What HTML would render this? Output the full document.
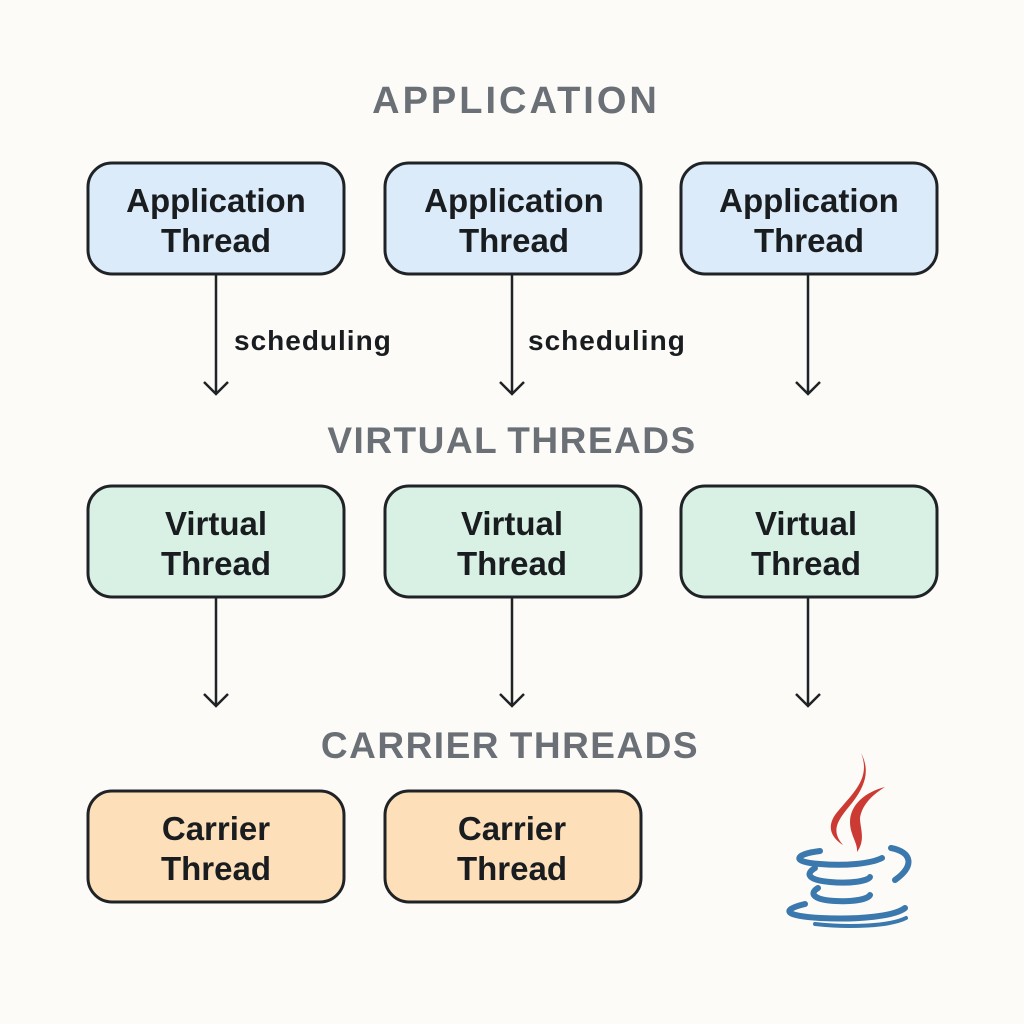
<!DOCTYPE html>
<html><head><meta charset="utf-8"><style>
body{margin:0;background:#fcfbf8;}
svg{display:block}
.h{font:bold 38px "Liberation Sans",sans-serif;fill:#6a7076;letter-spacing:3px;text-anchor:middle}
.h2{font:bold 37px "Liberation Sans",sans-serif;fill:#6a7076;letter-spacing:1.5px;word-spacing:-2px;text-anchor:middle}
.t{font:bold 33px "Liberation Sans",sans-serif;fill:#1a1d20;text-anchor:middle}
.s{font:bold 28px "Liberation Sans",sans-serif;fill:#1a1d20;letter-spacing:1px}
.b{stroke:#1f2326;stroke-width:3}
.a{stroke:#1f2326;stroke-width:2.5;fill:none}
</style></head><body>
<svg width="1024" height="1024" viewBox="0 0 1024 1024">
<text class="h" x="516" y="113">APPLICATION</text>
<text class="h2" x="512" y="453">VIRTUAL THREADS</text>
<text class="h2" x="510" y="758">CARRIER THREADS</text>
<g fill="#dcebf9" class="b">
<rect x="88" y="163" width="256" height="111" rx="24"/>
<rect x="385" y="163" width="256" height="111" rx="24"/>
<rect x="681" y="163" width="256" height="111" rx="24"/>
</g>
<g fill="#d9f1e5" class="b">
<rect x="88" y="486" width="256" height="111" rx="24"/>
<rect x="385" y="486" width="256" height="111" rx="24"/>
<rect x="681" y="486" width="256" height="111" rx="24"/>
</g>
<g fill="#fddfb9" class="b">
<rect x="88" y="791" width="256" height="111" rx="24"/>
<rect x="385" y="791" width="256" height="111" rx="24"/>
</g>
<g class="t">
<text x="216" y="212">Application</text><text x="216" y="252">Thread</text>
<text x="514" y="212">Application</text><text x="514" y="252">Thread</text>
<text x="809" y="212">Application</text><text x="809" y="252">Thread</text>
<text x="216" y="535">Virtual</text><text x="216" y="575">Thread</text>
<text x="512" y="535">Virtual</text><text x="512" y="575">Thread</text>
<text x="806" y="535">Virtual</text><text x="806" y="575">Thread</text>
<text x="216" y="840">Carrier</text><text x="216" y="880">Thread</text>
<text x="512" y="840">Carrier</text><text x="512" y="880">Thread</text>
</g>
<text class="s" x="234" y="350">scheduling</text>
<text class="s" x="528" y="350">scheduling</text>
<g class="a">
<path d="M216 275V394M204 382L216 394L228 382"/>
<path d="M512 275V394M500 382L512 394L524 382"/>
<path d="M808 275V394M796 382L808 394L820 382"/>
<path d="M216 598V706M204 694L216 706L228 694"/>
<path d="M512 598V706M500 694L512 706L524 694"/>
<path d="M808 598V706M796 694L808 706L820 694"/>
</g>
<g fill="#cc3b33">
<path d="M861 753C872 780 850 795 835 815C825 830 835 840 843 845C830 830 838 820 852 803C866 785 870 770 861 753Z"/>
<path d="M885 787C865 792 850 805 850 822C850 835 858 843 857 852C866 840 860 828 860 818C862 805 872 795 885 787Z"/>
</g>
<g fill="none" stroke="#3a78ad" stroke-linecap="round">
<path d="M820 851C795 854 790 862 820 864C845 866 870 864 882 858" stroke-width="6"/>
<path d="M891 848C912 852 915 866 895 880" stroke-width="6"/>
<path d="M815 868C805 874 808 880 830 882C850 884 868 881 870 877" stroke-width="6"/>
<path d="M818 888C808 894 815 900 835 901C855 902 868 899 870 895" stroke-width="6"/>
<path d="M805 904C780 910 785 916 820 918C860 920 895 916 905 908" stroke-width="6"/>
<path d="M815 924C850 928 890 926 906 918" stroke-width="4"/>
</g>
</svg>
</body></html>
